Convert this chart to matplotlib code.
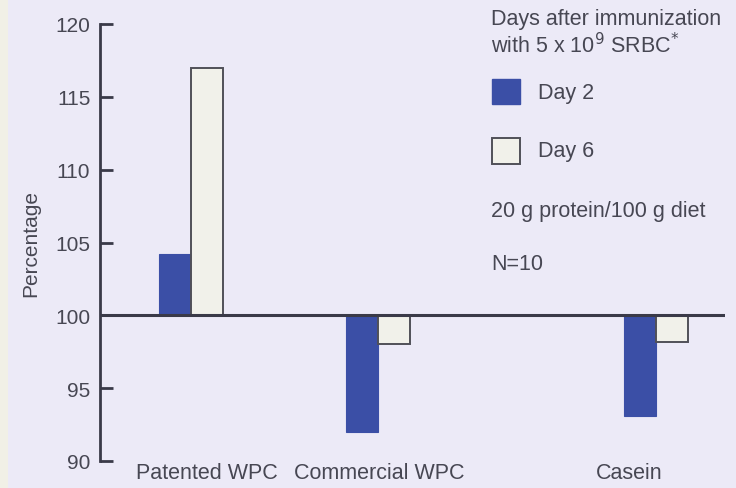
import matplotlib.pyplot as plt
from matplotlib.patches import Rectangle

# values (percentage of control)
groups = ['Patented WPC', 'Commercial WPC', 'Casein']
day2 = [104.2, 92.0, 93.1]
day6 = [117.0, 98.0, 98.2]

plt.rcParams['font.family'] = ['Liberation Sans', 'DejaVu Sans']

bg = '#ECEAF7'
blue = '#3B4FA6'
pale = '#F1F1EA'
dark = '#3A3A48'
txt = '#474753'

W, H = 736, 489
fig = plt.figure(figsize=(W / 100, H / 100), dpi=100, facecolor=bg)
# faint strip on the left edge of the scan
fig.patches.append(Rectangle((0, 0), 8 / W, 1, transform=fig.transFigure,
                             facecolor='#F1F0E6', edgecolor='none'))

ax = fig.add_axes([100 / W, 1 - 462 / H, 625 / W, 437 / H])
ax.set_facecolor(bg)

# group centres / label positions on a pixel-like x scale
centres = [191, 378, 656]
label_x = [207, 379, 629]
bw = 32

ax.bar([c - bw / 2 for c in centres], [v - 100 for v in day2], bw, bottom=100,
       color=blue, edgecolor=blue, linewidth=0.8, label='Day 2')
ax.bar([c + bw / 2 for c in centres], [v - 100 for v in day6], bw, bottom=100,
       color=pale, edgecolor='#505058', linewidth=1.4, label='Day 6')

ax.axhline(100, color=dark, linewidth=2.2, zorder=3)

ax.set_xlim(100, 725)
ax.set_ylim(90, 120)
ax.set_yticks([90, 95, 100, 105, 110, 115, 120])
ax.tick_params(axis='y', direction='in', length=9, width=2, color=dark,
               labelsize=15, labelcolor=txt, pad=7)
ax.set_xticks(label_x)
ax.set_xticklabels(groups)
ax.tick_params(axis='x', length=0, labelsize=15.5, labelcolor=txt, pad=1)
for s in ['top', 'right', 'bottom']:
    ax.spines[s].set_visible(False)
ax.spines['left'].set_color(dark)
ax.spines['left'].set_linewidth(2)
ax.set_ylabel('Percentage', fontsize=15, color=txt, labelpad=11)

# key / notes in the upper right
def fx(px):
    return px / W

def fy(py):
    return 1 - py / H

fs = 15.5
fig.text(fx(491), fy(20), 'Days after immunization', fontsize=fs, color=txt, va='center')
fig.text(fx(491), fy(46), r'with 5 x 10$^{9}$ SRBC$^{*}$', fontsize=fs, color=txt, va='center')
fig.patches.append(Rectangle((fx(492), fy(105)), fx(28), 25 / H, transform=fig.transFigure,
                             facecolor=blue, edgecolor=blue))
fig.text(fx(538), fy(94), 'Day 2', fontsize=fs, color=txt, va='center')
fig.patches.append(Rectangle((fx(492), fy(165)), fx(28), 26 / H, transform=fig.transFigure,
                             facecolor=pale, edgecolor='#505058', linewidth=1.4))
fig.text(fx(538), fy(152), 'Day 6', fontsize=fs, color=txt, va='center')
fig.text(fx(491), fy(211), '20 g protein/100 g diet', fontsize=fs, color=txt, va='center')
fig.text(fx(491), fy(265), 'N=10', fontsize=fs, color=txt, va='center')

fig.savefig('out.png', dpi=100, facecolor=bg)
